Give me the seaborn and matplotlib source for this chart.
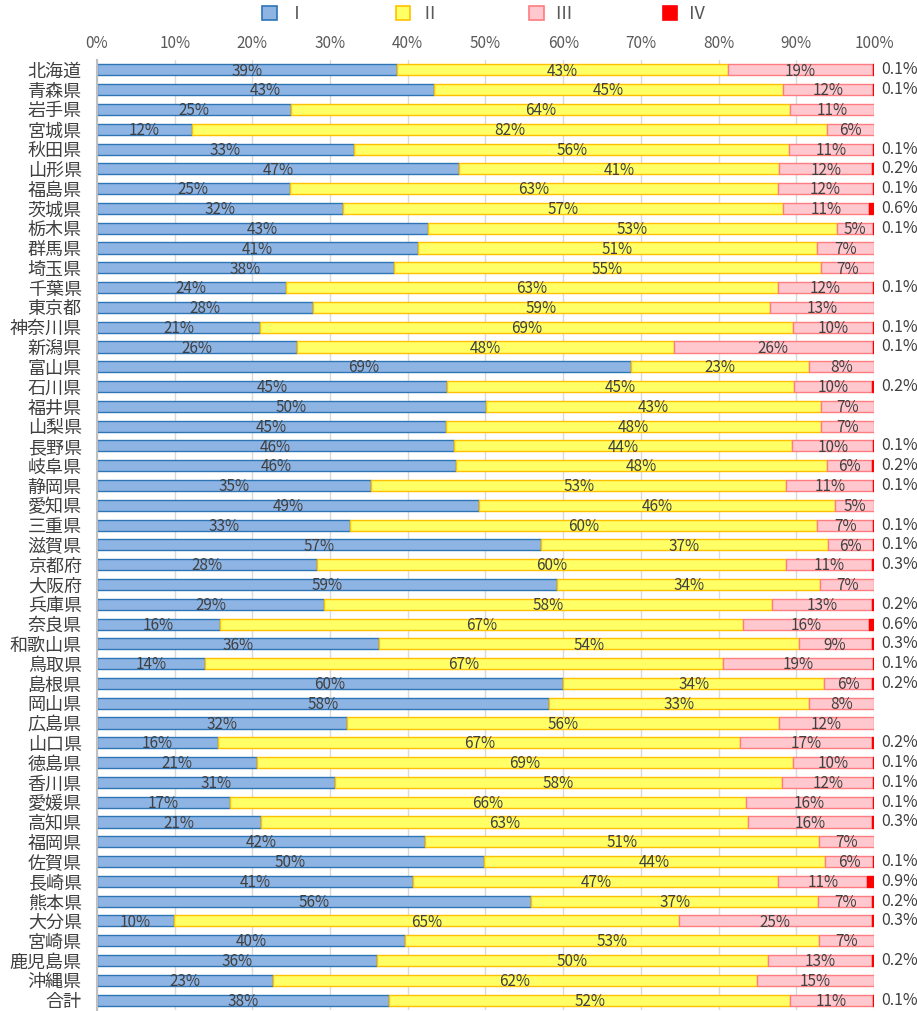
import numpy as np
import pandas as pd
import matplotlib
matplotlib.use("Agg")
import matplotlib.pyplot as plt
import seaborn as sns
from matplotlib.patches import Patch

prefectures = ["北海道", "青森県", "岩手県", "宮城県", "秋田県", "山形県", "福島県", "茨城県",
               "栃木県", "群馬県", "埼玉県", "千葉県", "東京都", "神奈川県", "新潟県", "富山県",
               "石川県", "福井県", "山梨県", "長野県", "岐阜県", "静岡県", "愛知県", "三重県",
               "滋賀県", "京都府", "大阪府", "兵庫県", "奈良県", "和歌山県", "鳥取県", "島根県",
               "岡山県", "広島県", "山口県", "徳島県", "香川県", "愛媛県", "高知県", "福岡県",
               "佐賀県", "長崎県", "熊本県", "大分県", "宮崎県", "鹿児島県", "沖縄県", "合計"]

s1 = [38.6, 43.4, 25.0, 12.2, 33.1, 46.6, 24.8, 31.6, 42.6, 41.3, 38.2, 24.3, 27.8, 21.0, 25.8, 68.7,
      45.1, 50.1, 44.9, 45.9, 46.2, 35.3, 49.2, 32.6, 57.1, 28.3, 59.2, 29.2, 15.8, 36.3, 13.9, 60.0,
      58.2, 32.2, 15.6, 20.6, 30.6, 17.1, 21.1, 42.2, 49.8, 40.7, 55.9, 9.9, 39.6, 36.0, 22.7, 37.6]
s2 = [42.6, 44.9, 64.2, 81.8, 56.0, 41.2, 62.8, 56.7, 52.6, 51.3, 55.0, 63.3, 58.8, 68.6, 48.4, 22.9,
      44.6, 43.1, 48.3, 43.6, 47.8, 53.4, 45.8, 60.1, 37.0, 60.4, 33.9, 57.7, 67.3, 54.0, 66.7, 33.6,
      33.4, 55.6, 67.2, 69.0, 57.6, 66.4, 62.7, 50.7, 43.9, 47.0, 36.9, 65.0, 53.3, 50.4, 62.2, 51.6]
s3 = [18.7, 11.6, 10.8, 6.0, 10.8, 12.0, 12.3, 11.1, 4.7, 7.4, 6.8, 12.3, 13.4, 10.3, 25.7, 8.4,
      10.1, 6.8, 6.8, 10.4, 5.8, 11.2, 5.0, 7.2, 5.8, 11.0, 6.9, 12.9, 16.3, 9.4, 19.3, 6.2,
      8.4, 12.2, 17.0, 10.3, 11.7, 16.4, 15.9, 7.1, 6.2, 11.4, 7.0, 24.8, 7.1, 13.4, 15.1, 10.7]
s4 = [0.1, 0.1, 0.0, 0.0, 0.1, 0.2, 0.1, 0.6, 0.1, 0.0, 0.0, 0.1, 0.0, 0.1, 0.1, 0.0,
      0.2, 0.0, 0.0, 0.1, 0.2, 0.1, 0.0, 0.1, 0.1, 0.3, 0.0, 0.2, 0.6, 0.3, 0.1, 0.2,
      0.0, 0.0, 0.2, 0.1, 0.1, 0.1, 0.3, 0.0, 0.1, 0.9, 0.2, 0.3, 0.0, 0.2, 0.0, 0.1]
series_names = ["Ⅰ", "Ⅱ", "Ⅲ", "Ⅳ"]
tick_values = [0, 10, 20, 30, 40, 50, 60, 70, 80, 90, 100]

fills = ["#8EB4E3", "#FFFF66", "#FFC7CE", "#FF0000"]
edges = ["#2E75B6", "#FFC000", "#FF7C80", "#FF0000"]
text_color = "#404040"

sns.set_theme(style="white")
plt.rcParams['font.family'] = ['Noto Sans CJK JP', 'DejaVu Sans']

vals = [np.array(s, dtype=float) for s in (s1, s2, s3, s4)]
starts = [np.zeros(len(prefectures))]
for v in vals[:-1]:
    starts.append(starts[-1] + v)

fig = plt.figure(figsize=(9.17, 10.11), dpi=100)
ax = fig.add_axes([97 / 917, 1 - 1010 / 1011, (874 - 97) / 917, (1010 - 60) / 1011])

for k in range(4):
    lw = np.where(vals[k] > 0, 1.0, 0.0)
    sns.barplot(x=vals[k], y=prefectures, orient="h", left=starts[k], color=fills[k],
                edgecolor=edges[k], linewidth=lw, saturation=1, width=0.56,
                errorbar=None, ax=ax)

ax.set_ylim(len(prefectures) - 0.5, -0.5)
ax.set_xlim(0, 100)
ax.xaxis.tick_top()
ax.set_xticks(tick_values)
ax.set_xticklabels([f"{t}%" for t in tick_values], fontsize=11, color="#595959")
ax.tick_params(axis="x", length=0, pad=6)
ax.tick_params(axis="y", length=0, pad=11, labelsize=13, labelcolor=text_color)
ax.set_xlabel("")
ax.set_ylabel("")
ax.xaxis.grid(True, color="#D9D9D9", linewidth=1.0)
ax.yaxis.grid(False)
ax.set_axisbelow(True)
for side in ["top", "right", "bottom"]:
    ax.spines[side].set_visible(False)
ax.spines["left"].set_color("#BFBFBF")
ax.spines["left"].set_linewidth(1.5)

for i in range(len(prefectures)):
    for k in range(3):
        v = vals[k][i]
        if v > 0:
            ax.text(starts[k][i] + v / 2, i + 0.06, f"{round(v)}%", ha="center", va="center",
                    fontsize=11, color=text_color)
    if vals[3][i] > 0:
        ax.text(100.9, i, f"{vals[3][i]:.1f}%", ha="left", va="center", fontsize=11.5,
                color=text_color, clip_on=False)

handles = [Patch(facecolor=fills[k], edgecolor=edges[k], linewidth=1.2) for k in range(4)]
fig.legend(handles, series_names, loc="center", bbox_to_anchor=(0.528, 0.986), ncol=4,
           frameon=False, fontsize=13, handlelength=0.8, handleheight=0.8,
           handletextpad=0.6, columnspacing=5.0, labelcolor="#595959")

fig.savefig("out.png", dpi=100)
